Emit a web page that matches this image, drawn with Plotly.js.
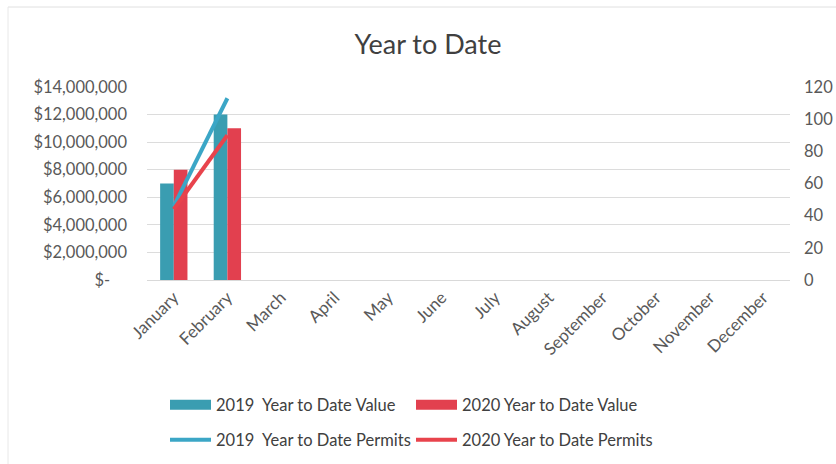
<!DOCTYPE html>
<html><head><meta charset="utf-8">
<script src="https://cdn.plot.ly/plotly-3.0.1.min.js"></script>
<style>html,body{margin:0;padding:0;background:#fff}#chart{width:836px;height:464px}</style>
</head><body><div id="chart"></div>
<script>
const months = ["January","February","March","April","May","June","July","August","September","October","November","December"];
const value2019 = [7000000, 12000000];
const value2020 = [8000000, 11000000];
const permits2019 = [46, 113];
const permits2020 = [44, 90];
const leftTickVals = [0,2000000,4000000,6000000,8000000,10000000,12000000,14000000];
const leftTickText = ["$-\u00a0\u00a0\u00a0\u00a0","$2,000,000","$4,000,000","$6,000,000","$8,000,000","$10,000,000","$12,000,000","$14,000,000"];
const rightTickVals = [0,20,40,60,80,100,120];

const teal = "#3a9db1", red = "#e2404f", tealLine = "#3ba6c6", redLine = "#e8434c";
const font = "Lato, 'Open Sans', sans-serif";

const traces = [
  {type:"bar", name:"2019  Year to Date Value", x:months.slice(0,value2019.length), y:value2019, marker:{color:teal}, showlegend:false},
  {type:"bar", name:"2020 Year to Date Value", x:months.slice(0,value2020.length), y:value2020, marker:{color:red}, showlegend:false},
  {type:"scatter", mode:"lines", name:"2019  Year to Date Permits", x:months.slice(0,permits2019.length), y:permits2019, yaxis:"y2", line:{color:tealLine, width:4}, legend:"legend2"},
  {type:"scatter", mode:"lines", name:"2020 Year to Date Permits", x:months.slice(0,permits2020.length), y:permits2020, yaxis:"y2", line:{color:redLine, width:4}, legend:"legend2"},
  // legend-only swatches for the bar series (wide rectangles as in the reference)
  {type:"scatter", mode:"lines", name:"2019  Year to Date Value", x:[null], y:[null], line:{color:teal, width:10}, legend:"legend", hoverinfo:"skip"},
  {type:"scatter", mode:"lines", name:"2020 Year to Date Value", x:[null], y:[null], line:{color:red, width:10}, legend:"legend", hoverinfo:"skip"}
];

const legendCommon = {orientation:"h", xref:"container", yref:"container", xanchor:"left", yanchor:"middle",
  entrywidth:190, entrywidthmode:"pixels", itemwidth:41, font:{size:16.5, color:"#404040", family:font},
  traceorder:"normal", bgcolor:"rgba(0,0,0,0)", tracegroupgap:0};

const L = 147, R = 790, T = 87, B = 280;
const pw = R - L, ph = B - T;

const layout = {
  width:836, height:464,
  margin:{l:L, r:836-R, t:T, b:464-B},
  paper_bgcolor:"#fff", plot_bgcolor:"#fff",
  font:{family:font, color:"#595959", size:16.5},
  title:{text:"Year to Date", font:{size:27, color:"#404040", family:font}, x:428/836, xanchor:"center", y:1-45/464, yanchor:"middle", yref:"container"},
  barmode:"group", bargap:0.49, bargroupgap:0,
  showlegend:true,
  legend:Object.assign({}, legendCommon, {x:165/836, y:1-405/464}),
  legend2:Object.assign({}, legendCommon, {x:165/836, y:1-440/464}),
  xaxis:{categoryorder:"array", categoryarray:months, range:[-0.5,11.5], tickangle:-45, showgrid:false, showline:true, linecolor:"#d9d9d9", ticks:"", tickfont:{size:17, color:"#595959"}},
  yaxis:{range:[0,14000000], tickvals:leftTickVals, ticktext:leftTickText, showgrid:true, gridcolor:"#dcdcdc", gridwidth:1, zeroline:false, showline:false, ticks:"", ticklabelstandoff:19, tickfont:{size:16.5, color:"#595959"}},
  yaxis2:{overlaying:"y", side:"right", range:[0,120], tickvals:rightTickVals, showgrid:false, zeroline:false, showline:false, ticks:"", ticklabelstandoff:13, tickfont:{size:16.5, color:"#595959"}},
  shapes:[
    {type:"line", xref:"paper", yref:"paper", x0:(8-L)/pw, x1:(836-L)/pw, y0:1+(T-7)/ph, y1:1+(T-7)/ph, line:{color:"#e0e0e0", width:1}},
    {type:"line", xref:"paper", yref:"paper", x0:(8-L)/pw, x1:(8-L)/pw, y0:1+(T-7)/ph, y1:(B-464)/ph, line:{color:"#e8e8e8", width:1}}
  ]
};

Plotly.newPlot("chart", traces, layout, {displayModeBar:false, staticPlot:true});
</script></body></html>
